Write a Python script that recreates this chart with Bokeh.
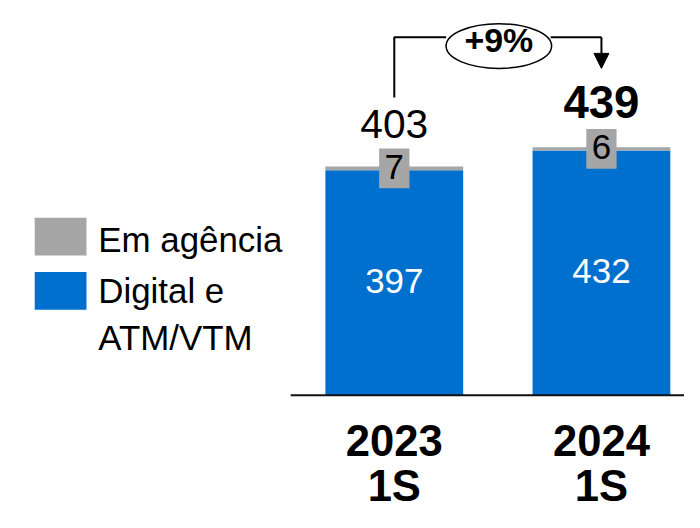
from bokeh.plotting import figure
from bokeh.models import ColumnDataSource, Range1d, Arrow, NormalHead
from bokeh.core.properties import value
from bokeh.embed import file_html
from bokeh.resources import INLINE

# ---- data ----
categories = ["2023 1S", "2024 1S"]
cat_year = ["2023", "2024"]
cat_half = ["1S", "1S"]
digital = [397, 432]          # Digital e ATM/VTM
agencia = [7, 6]              # Em agência
totals = [403, 439]
growth_label = "+9%"
series_names = ["Digital e\nATM/VTM", "Em agência"]

BLUE = "#0070CE"
GRAY = "#A6A6A6"
FONT = value("Liberation Sans")

# ---- layout helpers (reference px -> data) ----
W, H = 684, 512
REF_W, REF_H = 700, 528
KX, KY = W / REF_W, H / REF_H
SX0, PX_CAT = 403.0, 212.0       # reference x of first category, px per category
SY0, PX_UNIT = 407.0, 0.584      # reference y of baseline, px per value unit
BASE_FIX = 0.40                  # alphabetic-baseline correction (em)

def sx2x(px):
    return (px - SX0) / PX_CAT
def sy2y(py):
    return (SY0 - py) / PX_UNIT
def dpx(px):
    return px / PX_UNIT
def fs(px):
    return px * KY
def fsz(px):
    return "%.1fpx" % fs(px)
def base_fix(font_px):
    # data-unit lift so the glyph baseline lands where intended
    return dpx(BASE_FIX * font_px)

xs = list(range(len(categories)))
src = ColumnDataSource(dict(x=xs, digital=digital, agencia=agencia))

p = figure(width=W, height=H, output_backend="svg", toolbar_location=None,
           x_range=Range1d(sx2x(0), sx2x(REF_W)),
           y_range=Range1d(sy2y(REF_H), sy2y(0)),
           min_border=0, min_border_left=0, min_border_right=0,
           min_border_top=0, min_border_bottom=0)
p.axis.visible = False
p.grid.visible = False
p.outline_line_color = None
p.background_fill_color = "white"

# bars
p.vbar_stack(["digital", "agencia"], x="x", width=0.665, source=src,
             color=[BLUE, GRAY], line_color=None)

# baseline
p.segment(x0=[-0.5], y0=[0], x1=[sx2x(REF_W)], y1=[0], line_color="#111111", line_width=2)

# value labels in blue segment
p.text(x=xs, y=[d / 2 - dpx(13) + base_fix(36) for d in digital],
       text=[str(d) for d in digital],
       text_align="center", text_baseline="alphabetic", text_color="white",
       text_font=FONT, text_font_size=fsz(36))

# gray label boxes
mid_g = [d + a / 2 for d, a in zip(digital, agencia)]
p.rect(x=xs, y=mid_g, width=31 * KX, height=41 * KY, width_units="screen",
       height_units="screen", fill_color=GRAY, line_color=None)
p.text(x=xs, y=[m - dpx(13) + base_fix(36) for m in mid_g], text=[str(a) for a in agencia],
       text_align="center", text_baseline="alphabetic", text_color="black",
       text_font=FONT, text_font_size=fsz(36))

# totals
stack_top = [d + a for d, a in zip(digital, agencia)]
p.text(x=[xs[0]], y=[stack_top[0] + dpx(27) + base_fix(42)], text=[str(totals[0])],
       text_align="center", text_baseline="alphabetic", text_color="black",
       text_font=FONT, text_font_size=fsz(42))
p.text(x=[xs[1]], y=[stack_top[1] + dpx(28) + base_fix(47)], text=[str(totals[1])],
       text_align="center", text_baseline="alphabetic", text_color="black",
       text_font=FONT, text_font_size=fsz(47), text_font_style="bold")

# growth connector
y_line = sy2y(38)
p.line(x=[xs[0], xs[0], sx2x(456)], y=[sy2y(100), y_line, y_line],
       line_color="black", line_width=2)
p.line(x=[sx2x(563), xs[1]], y=[y_line, y_line], line_color="black", line_width=2)
p.add_layout(Arrow(end=NormalHead(size=15, fill_color="black", line_color="black"),
                   x_start=xs[1], y_start=y_line, x_end=xs[1], y_end=sy2y(70),
                   line_color="black", line_width=2))
p.ellipse(x=[sx2x(510)], y=[sy2y(47)], width=108 * KX, height=46 * KY,
          width_units="screen", height_units="screen",
          fill_color="white", line_color="black", line_width=1.5)
p.text(x=[sx2x(510)], y=[sy2y(55) + base_fix(35)], text=[growth_label], text_align="center",
       text_baseline="alphabetic", text_font=FONT, text_font_size=fsz(35),
       text_font_style="bold", text_color="black")

# category labels
p.text(x=xs, y=[sy2y(472) + base_fix(45)] * len(xs), text=cat_year, text_align="center",
       text_baseline="alphabetic", text_font=FONT, text_font_size=fsz(45),
       text_font_style="bold", text_color="black")
p.text(x=xs, y=[sy2y(519) + base_fix(45)] * len(xs), text=cat_half, text_align="center",
       text_baseline="alphabetic", text_font=FONT, text_font_size=fsz(45),
       text_font_style="bold", text_color="black")

# legend (manual)
lx = sx2x(61.5)
p.rect(x=[lx, lx], y=[sy2y(243.5), sy2y(299.5)], width=53 * KX, height=39 * KY,
       width_units="screen", height_units="screen",
       fill_color=[GRAY, BLUE], line_color=None)
p.text(x=[sx2x(100)], y=[sy2y(261) + base_fix(36)], text=[series_names[1]],
       text_align="left", text_baseline="alphabetic", text_font=FONT,
       text_font_size=fsz(36), text_color="black")
lines = series_names[0].split("\n")
p.text(x=[sx2x(100)] * 2, y=[sy2y(313) + base_fix(36), sy2y(362) + base_fix(36)], text=lines,
       text_align="left", text_baseline="alphabetic", text_font=FONT,
       text_font_size=fsz(36), text_color="black")

open("out.html", "w").write(file_html(p, INLINE))
